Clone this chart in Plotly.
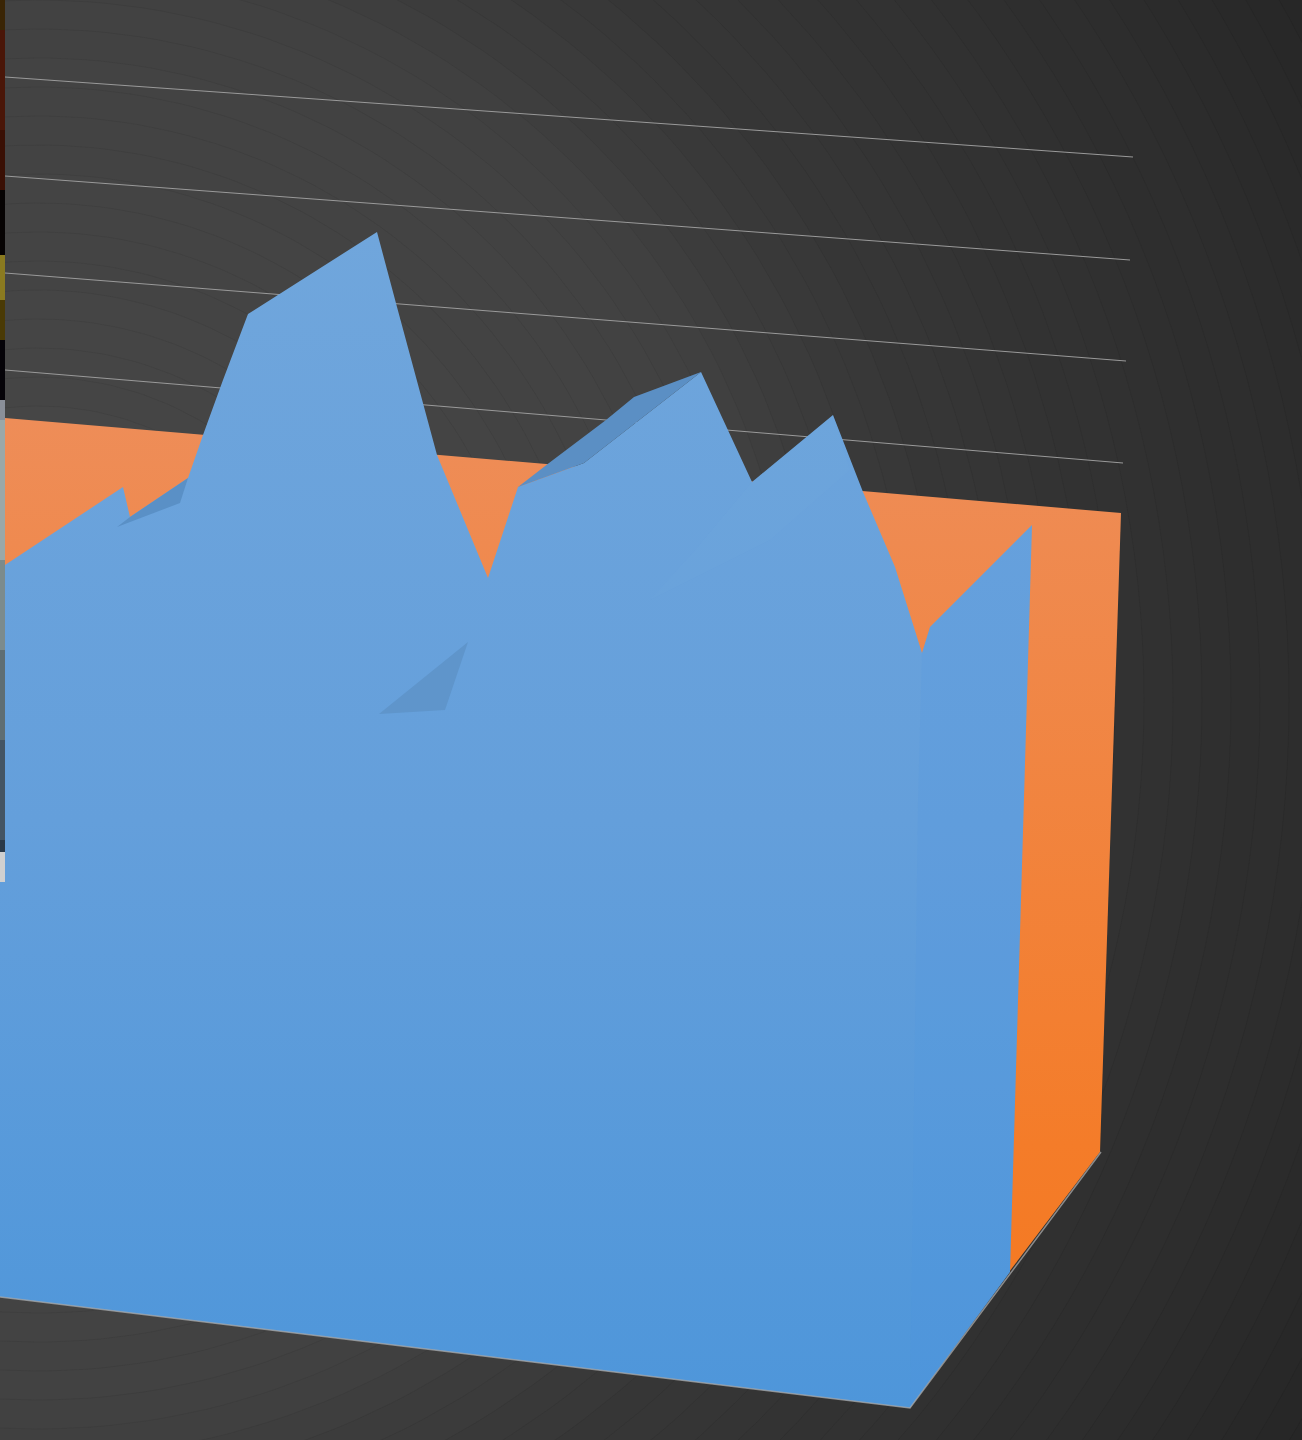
import numpy as np
import plotly.graph_objects as go

W, H = 1302, 1440

# Back wall (orange series)
wall_x = [5, 1121, 1100, 1009, 5]
wall_y = [418, 513, 1152, 1272, 1000]
# Front series (blue) outline
front_x = [5, 123, 130, 188, 203, 223, 248, 377, 397, 423, 437, 488, 518, 584, 701, 752, 833, 863, 895, 922, 930, 1032, 1010, 910, 0, 0, 5]
front_y = [565, 487, 517, 478, 435, 380, 314, 232, 307, 403, 455, 578, 487, 463, 372, 482, 415, 492, 567, 653, 627, 525, 1272, 1408, 1297, 882, 882]
# Darker facets
facet1_x = [117, 130, 188, 180]
facet1_y = [527, 517, 478, 503]
facet2_x = [518, 549, 606, 634, 701, 584]
facet2_y = [487, 463, 420, 397, 372, 463]
facet3_x = [379, 468, 445]
facet3_y = [714, 642, 710]
# Subtly tinted right section of the front series
tint_x = [930, 1032, 1010, 910, 918, 922]
tint_y = [627, 525, 1272, 1408, 800, 653]
# Subtle lighter facet
light_x = [697, 752, 833, 850, 770, 650]
light_y = [548, 482, 415, 470, 540, 600]
# Gridlines
grid_x0 = [5, 5, 5, 5]
grid_y0 = [77, 176, 273, 370]
grid_x1 = [1133, 1130, 1126, 1123]
grid_y1 = [157, 260, 361, 463]
# Floor edge
edge_x = [0, 910, 1101]
edge_y = [1297, 1408, 1152]
# Neighbouring picture sliver at the left edge
strip_y0 = [0, 30, 130, 190, 255, 300, 340, 400, 420, 560, 650, 740, 840, 852]
strip_y1 = [30, 130, 190, 255, 300, 340, 400, 420, 560, 650, 740, 840, 852, 882]
strip_col = ["#3a2505", "#4a1608", "#3a1005", "#060303", "#8a7a20", "#4a3a05", "#050308", "#8a8f99",
             "#9aa8a8", "#7c8b8c", "#5f6e73", "#445564", "#2a3a4a", "#d0d0d0"]
# Background banding: ring radii and the grey level at given radii
ring_r = [29 * k + 4 for k in range(52, 0, -1)]
level_r = [0, 700, 900, 1260, 1470]
level_g = [72, 66, 55, 45, 38]
CX, CY = 38, 700

fig = go.Figure()

t = np.linspace(0, 2 * np.pi, 240)
for r in ring_r:
    g = int(round(np.interp(r - 14, level_r, level_g)))
    fig.add_trace(go.Scatter(
        x=CX + r * np.cos(t), y=CY + r * np.sin(t), mode="lines",
        line=dict(color="rgba(0,0,0,0.05)", width=1), fill="toself",
        fillcolor=f"rgb({g},{g},{g})", hoverinfo="skip"))

# gridlines
for a, b, c, d in zip(grid_x0, grid_y0, grid_x1, grid_y1):
    fig.add_trace(go.Scatter(x=[a, c], y=[b, d], mode="lines", line=dict(color="#9a9a9a", width=1), hoverinfo="skip"))

# wall
fig.add_trace(go.Scatter(
    x=wall_x + wall_x[:1], y=wall_y + wall_y[:1], mode="lines", line=dict(width=0), fill="toself",
    fillgradient=dict(type="vertical", colorscale=[[0, "#f47a24"], [0.15, "#f47c29"], [1, "#ee8d58"]]),
    hoverinfo="skip"))

# front
fig.add_trace(go.Scatter(
    x=front_x + front_x[:1], y=front_y + front_y[:1], mode="lines", line=dict(width=0), fill="toself",
    fillgradient=dict(type="vertical", colorscale=[[0, "#4e96da"], [0.5, "#649fdb"], [1, "#70a6dc"]]),
    hoverinfo="skip"))

for fx, fy, col in [(tint_x, tint_y, "rgba(75,150,228,0.12)"), (light_x, light_y, "rgba(125,175,225,0.08)"),
                    (facet1_x, facet1_y, "#5a90c6"), (facet2_x, facet2_y, "#5b8fc4"), (facet3_x, facet3_y, "#5f95cb")]:
    fig.add_trace(go.Scatter(x=fx + fx[:1], y=fy + fy[:1], mode="lines", line=dict(width=0), fill="toself",
                             fillcolor=col, hoverinfo="skip"))

# floor edge
fig.add_trace(go.Scatter(x=edge_x, y=edge_y, mode="lines", line=dict(color="rgba(170,170,170,0.75)", width=1.5), hoverinfo="skip"))

# strip
for y0, y1, col in zip(strip_y0, strip_y1, strip_col):
    fig.add_trace(go.Scatter(x=[0, 5, 5, 0, 0], y=[y0, y0, y1, y1, y0], mode="lines", line=dict(width=0),
                             fill="toself", fillcolor=col, hoverinfo="skip"))

fig.update_layout(
    width=W, height=H, margin=dict(l=0, r=0, t=0, b=0), showlegend=False,
    paper_bgcolor="#262626", plot_bgcolor="#262626",
    xaxis=dict(range=[0, W], visible=False, fixedrange=True),
    yaxis=dict(range=[H, 0], visible=False, fixedrange=True),
)
fig.write_html("out.html", config=dict(displayModeBar=False),
               post_script="document.body.style.margin='0';")
